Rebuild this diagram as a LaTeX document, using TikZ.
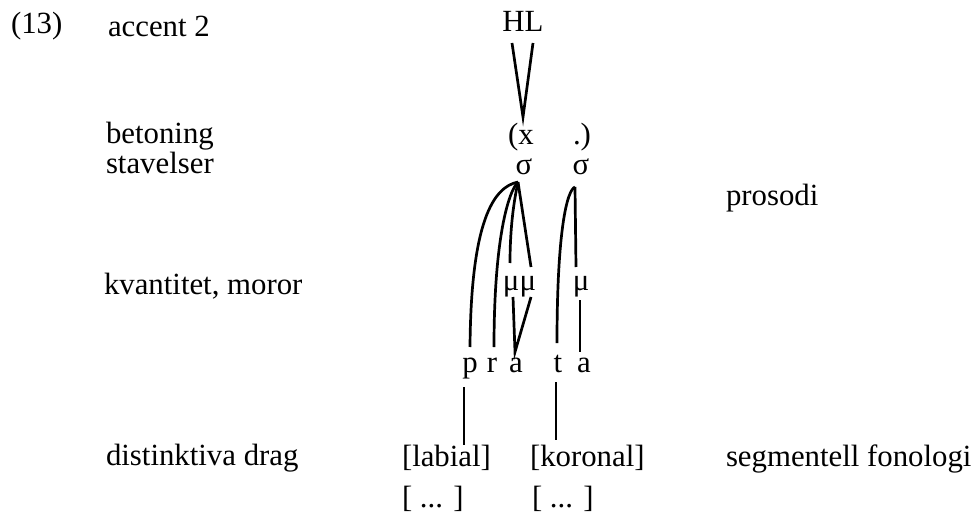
\documentclass[tikz,border=0pt]{standalone}
\usepackage{fontspec}
\setmainfont{Liberation Serif}
\usetikzlibrary{calc}
\begin{document}
\begin{tikzpicture}[x=1pt,y=-1pt,
  txt/.style={inner sep=0pt,outer sep=0pt,font=\fontsize{30.8}{36}\selectfont},
  lbl/.style={txt,anchor=base west},
  seg/.style={txt,anchor=base},
  assoc/.style={line width=2.7pt,line cap=butt}]
\useasboundingbox (0,0) rectangle (977,516);

% example number and level labels
\node[lbl] (num) at (11,34) {(13)};
\node[lbl] (lacc) at (108,37) {accent 2};
\node[lbl] (lbet) at (106,143) {betoning};
\node[lbl] (lsyl) at (106,173) {stavelser};
\node[lbl] (lmor) at (104,294) {kvantitet, moror};
\node[lbl] (ldis) at (106,465) {distinktiva drag};
\node[lbl] (lpro) at (726,205) {prosodi};
\node[lbl] (lseg) at (726,466) {segmentell fonologi};

% tonal tier and stress grid
\node[seg] (HL) at (523,32) {HL};
\node[lbl] (beat) at (508,145) {(x};
\node[lbl] (weak) at (573,145) {.)};

% syllables and morae
\node[seg] (s1) at (524,175) {σ};
\node[seg] (s2) at (581,175) {σ};
\node[seg] (mu1) at (511,290) {μ};
\node[seg] (mu2) at (528,290) {μ};
\node[seg] (mu3) at (581,290) {μ};

% segments
\node[seg] (p) at (470,372) {p};
\node[seg] (r) at (492,372) {r};
\node[seg] (a1) at (516,372) {a};
\node[seg] (t) at (558,372) {t};
\node[seg] (a2) at (584,372) {a};

% feature matrices
\node[lbl] (lab) at (402,466) {[labial]};
\node[lbl] (kor) at (530,466) {[koronal]};
\node[lbl] (rest1) at (402,507) {[ ... ]};
\node[lbl] (rest2) at (532,507) {[ ... ]};

% tone association
\draw[assoc] ($(HL.base)+(-11,11)$) -- ($(beat.base west)+(15,-28)$) -- ($(HL.base)+(10,11)$);

% first syllable
\draw[assoc] ($(s1.base)+(-6,7)$) .. controls (493,187) and (471,222) .. ($(p.base)+(0,-25)$);
\draw[assoc] ($(s1.base)+(-6,7)$) .. controls (508,192) and (494,240) .. ($(r.base)+(2,-25)$);
\draw[assoc] ($(s1.base)+(-6,7)$) .. controls (513,205) and (510,232) .. ($(mu1.base)+(-1,-27)$);
\draw[assoc] ($(s1.base)+(-6,7)$) -- ($(mu2.base)+(3,-23)$);
\draw[assoc] ($(mu1.base)+(2,7)$) -- ($(a1.base)+(-1,-20)$) -- ($(mu2.base)+(3,7)$);

% second syllable
\draw[assoc] ($(s2.base)+(-6,12)$) .. controls (567,190) and (557,230) .. ($(t.base)+(-1,-29)$);
\draw[assoc] ($(s2.base)+(-6,12)$) -- ($(mu3.base)+(-5,-23)$);
\draw[assoc] ($(mu3.base)+(-1,10)$) -- ($(a2.base)+(-4,-20)$);

% segment to feature links
\draw[assoc] ($(p.base)+(-6,15)$) -- ($(lab.base west)+(62,-21)$);
\draw[assoc] ($(t.base)+(-2,10)$) -- ($(kor.base west)+(26,-26)$);
\end{tikzpicture}
\end{document}
